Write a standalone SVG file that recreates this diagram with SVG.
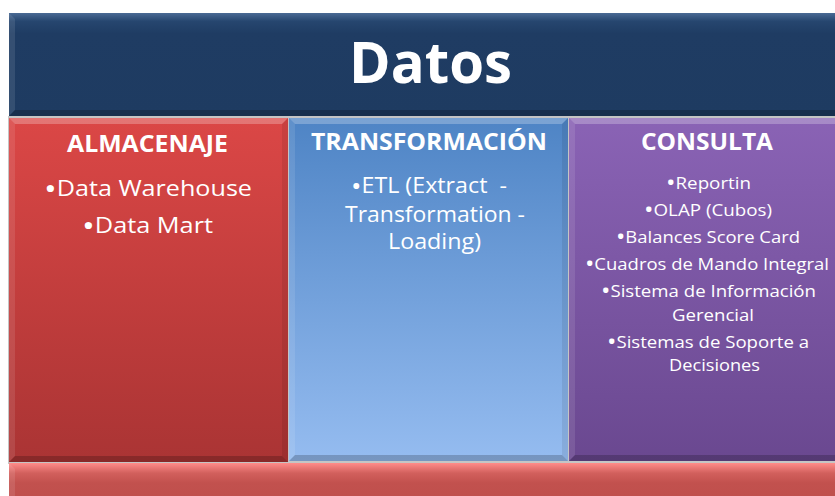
<svg xmlns="http://www.w3.org/2000/svg" width="835" height="496" viewBox="0 0 835 496">
<defs>
<linearGradient id="gHead" x1="0" y1="0" x2="0" y2="1">
<stop offset="0" stop-color="#4A6A94"/><stop offset="0.08" stop-color="#26466F"/><stop offset="0.2" stop-color="#1F3C63"/><stop offset="1" stop-color="#1E3B61"/>
</linearGradient>
<linearGradient id="gRed" x1="0" y1="0" x2="0" y2="1">
<stop offset="0" stop-color="#DB4746"/><stop offset="1" stop-color="#AA3434"/>
</linearGradient>
<linearGradient id="gBlue" x1="0" y1="0" x2="0" y2="1">
<stop offset="0" stop-color="#4E84C5"/><stop offset="1" stop-color="#95BCF0"/>
</linearGradient>
<linearGradient id="gPurp" x1="0" y1="0" x2="0" y2="1">
<stop offset="0" stop-color="#8A63B5"/><stop offset="1" stop-color="#6A4890"/>
</linearGradient>
<linearGradient id="gFoot" x1="0" y1="0" x2="0" y2="1">
<stop offset="0" stop-color="#FF8C8A"/><stop offset="0.25" stop-color="#D2605D"/><stop offset="0.5" stop-color="#C2514E"/><stop offset="1" stop-color="#BE4F4C"/>
</linearGradient>
</defs>
<style>
.t{font-family:"Open Sans","Liberation Sans",sans-serif;fill:#FFFFFF}
.h{font-weight:bold}
.b{font-size:1.35em}
.b2{font-size:1.2em}
.top{fill:#FFFFFF;fill-opacity:0.25}
.lft{fill:#FFFFFF;fill-opacity:0.10}
.rgt{fill:#000000;fill-opacity:0.08}
.bot{fill:#000000;fill-opacity:0.2}
</style>
<rect x="0" y="0" width="835" height="496" fill="#FFFFFF"/>
<rect x="8" y="116" width="835" height="348" fill="#5A5A5A" fill-opacity="0.35"/>

<g id="header">
<rect x="9" y="13" width="830" height="103" fill="url(#gHead)"/>
<polygon class="lft" points="9,13 15,19 15,110 9,116"/>
<polygon class="bot" points="9,116 15,110 839,110 839,116"/>
<text class="t h" x="349" y="83" font-size="58" textLength="163" lengthAdjust="spacingAndGlyphs">Datos</text>
</g>

<g id="col-almacenaje">
<rect x="9" y="118" width="279" height="344" fill="url(#gRed)"/>
<polygon class="top" points="9,118 288,118 282,124 15,124"/>
<polygon class="lft" points="9,118 15,124 15,456 9,462"/>
<polygon class="rgt" points="288,118 288,462 282,456 282,124"/>
<polygon class="bot" points="9,462 15,456 282,456 288,462"/>
<text class="t h" x="67" y="152" font-size="24" textLength="161" lengthAdjust="spacingAndGlyphs">ALMACENAJE</text>
<text class="t" x="44" y="196" font-size="22" textLength="208" lengthAdjust="spacingAndGlyphs"><tspan class="b" dy="2.5">•</tspan><tspan dy="-2.5">Data Warehouse</tspan></text>
<text class="t" x="82" y="233" font-size="22" textLength="131" lengthAdjust="spacingAndGlyphs"><tspan class="b" dy="2.5">•</tspan><tspan dy="-2.5">Data Mart</tspan></text>
</g>

<g id="col-transformacion">
<rect x="289" y="118" width="279" height="343" fill="url(#gBlue)"/>
<polygon class="top" points="289,118 568,118 562,124 295,124"/>
<polygon class="lft" points="289,118 295,124 295,455 289,461"/>
<polygon class="rgt" points="568,118 568,461 562,455 562,124"/>
<polygon class="bot" points="289,461 295,455 562,455 568,461"/>
<text class="t h" x="311" y="150" font-size="24" textLength="236" lengthAdjust="spacingAndGlyphs">TRANSFORMACIÓN</text>
<text class="t" x="351" y="193" font-size="21" textLength="156" lengthAdjust="spacingAndGlyphs" xml:space="preserve"><tspan class="b2" dy="1.5">•</tspan><tspan dy="-1.5">ETL (Extract  -</tspan></text>
<text class="t" x="345" y="222" font-size="21" textLength="180" lengthAdjust="spacingAndGlyphs">Transformation -</text>
<text class="t" x="388" y="249" font-size="21" textLength="93" lengthAdjust="spacingAndGlyphs">Loading)</text>
</g>

<g id="col-consulta">
<rect x="569" y="118" width="270" height="343" fill="url(#gPurp)"/>
<polygon class="top" points="569,118 839,118 839,124 575,124"/>
<polygon class="lft" points="569,118 575,124 575,455 569,461"/>
<polygon class="bot" points="569,461 575,455 839,455 839,461"/>
<text class="t h" x="641" y="150" font-size="24" textLength="132" lengthAdjust="spacingAndGlyphs">CONSULTA</text>
<text class="t" x="666" y="189" font-size="17" textLength="85" lengthAdjust="spacingAndGlyphs"><tspan class="b" dy="2">•</tspan><tspan dy="-2">Reportin</tspan></text>
<text class="t" x="644" y="216" font-size="17" textLength="128" lengthAdjust="spacingAndGlyphs"><tspan class="b" dy="2">•</tspan><tspan dy="-2">OLAP (Cubos)</tspan></text>
<text class="t" x="616" y="243" font-size="17" textLength="184" lengthAdjust="spacingAndGlyphs"><tspan class="b" dy="2">•</tspan><tspan dy="-2">Balances Score Card</tspan></text>
<text class="t" x="585" y="270" font-size="17" textLength="244" lengthAdjust="spacingAndGlyphs"><tspan class="b" dy="2">•</tspan><tspan dy="-2">Cuadros de Mando Integral</tspan></text>
<text class="t" x="601" y="297" font-size="17" textLength="215" lengthAdjust="spacingAndGlyphs"><tspan class="b" dy="2">•</tspan><tspan dy="-2">Sistema de Información</tspan></text>
<text class="t" x="672" y="321" font-size="17" textLength="82" lengthAdjust="spacingAndGlyphs">Gerencial</text>
<text class="t" x="607" y="348" font-size="17" textLength="202" lengthAdjust="spacingAndGlyphs"><tspan class="b" dy="2">•</tspan><tspan dy="-2">Sistemas de Soporte a</tspan></text>
<text class="t" x="669" y="371" font-size="17" textLength="91" lengthAdjust="spacingAndGlyphs">Decisiones</text>
</g>

<g id="footer">
<rect x="9" y="463" width="830" height="40" fill="url(#gFoot)"/>
<polygon class="lft" points="9,463 15,469 15,496 9,496"/>
</g>
</svg>
